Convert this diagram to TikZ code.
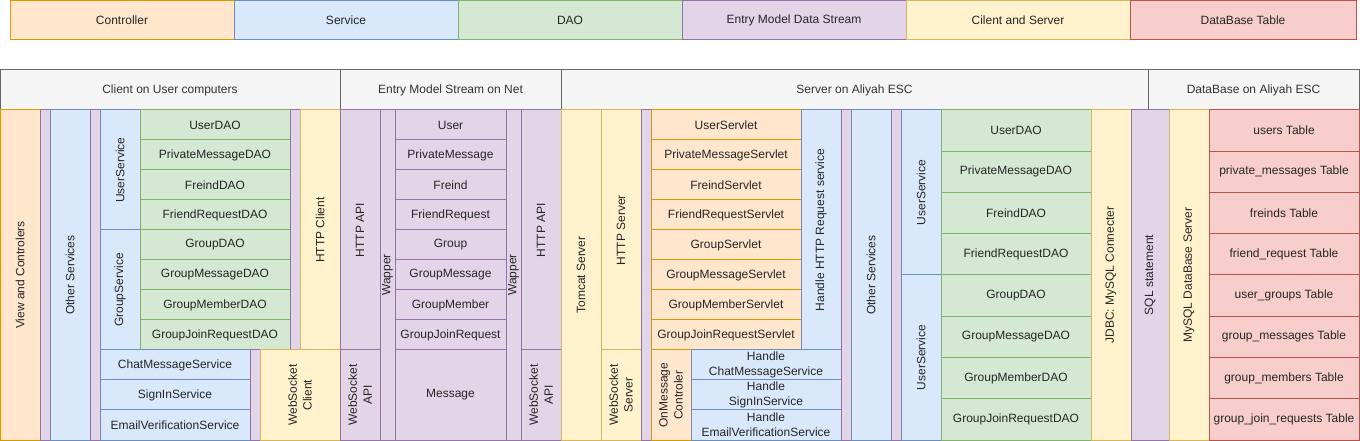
\documentclass[tikz,border=0pt]{standalone}
\usepackage{fontspec}
\setmainfont{Liberation Sans}
\definecolor{orF}{HTML}{FFE6CC}\definecolor{orD}{HTML}{D79B00}
\definecolor{blF}{HTML}{DAE8FC}\definecolor{blD}{HTML}{6C8EBF}
\definecolor{grF}{HTML}{D5E8D4}\definecolor{grD}{HTML}{82B366}
\definecolor{puF}{HTML}{E1D5E7}\definecolor{puD}{HTML}{9673A6}
\definecolor{yeF}{HTML}{FFF2CC}\definecolor{yeD}{HTML}{D6B656}
\definecolor{reF}{HTML}{F8CECC}\definecolor{reD}{HTML}{B85450}
\definecolor{gyF}{HTML}{F5F5F5}\definecolor{gyD}{HTML}{666666}
\definecolor{gyT}{HTML}{333333}
\tikzset{
  orng/.style={fill=orF,draw=orD,line width=0.75pt},
  blu/.style={fill=blF,draw=blD,line width=0.75pt},
  grn/.style={fill=grF,draw=grD,line width=0.75pt},
  purp/.style={fill=puF,draw=puD,line width=0.75pt},
  yell/.style={fill=yeF,draw=yeD,line width=0.75pt},
  redb/.style={fill=reF,draw=reD,line width=0.75pt},
  gray/.style={fill=gyF,draw=gyD,line width=0.75pt},
  lbl/.style={font=\fontsize{9}{11.1}\selectfont,align=center,inner sep=0pt,text=black!85},
  hlbl/.style={lbl,text=gyT}
}
\newcommand\mycellh[7]{\draw[#2] (#3,#4) rectangle (#5,#6); \node[lbl] (#1) at ({(#3+#5)/2},{(#4+#6)/2}) {#7};}
\newcommand\mycellv[7]{\draw[#2] (#3,#4) rectangle (#5,#6); \node[lbl,rotate=90] (#1) at ({(#3+#5)/2},{(#4+#6)/2}) {#7};}
\newcommand\myhead[6]{\draw[gray] (#2,#3) rectangle (#4,#5); \node[hlbl] (#1) at ({(#2+#4)/2},{(#3+#5)/2}) {#6};}
\begin{document}
\begin{tikzpicture}[x=0.75pt,y=-0.75pt]
\useasboundingbox (0,0) rectangle (1360,441);
% legend
\mycellh{leg1}{orng}{10}{1}{234}{40}{Controller}
\mycellh{leg2}{blu}{234}{1}{458}{40}{Service}
\mycellh{leg3}{grn}{458}{1}{682}{40}{DAO}
\mycellh{leg4}{purp}{682}{1}{906}{40}{Entry Model Data Stream}
\mycellh{leg5}{yell}{906}{1}{1130}{40}{Cilent and Server}
\mycellh{leg6}{redb}{1130}{1}{1356}{40}{DataBase Table}
% headers
\myhead{h1}{0}{70}{340}{110}{Client on User computers}
\myhead{h2}{340}{70}{561}{110}{Entry Model Stream on Net}
\myhead{h3}{561}{70}{1148}{110}{Server on Aliyah ESC}
\myhead{h4}{1148}{70}{1359}{110}{DataBase on Aliyah ESC}
% client
\mycellv{cview}{orng}{0}{110}{40}{440}{View and Controlers}
\mycellv{cp1}{purp}{40}{110}{50}{440}{}
\mycellv{cother}{blu}{50}{110}{90}{440}{Other Services}
\mycellv{cp2}{purp}{90}{110}{100}{440}{}
\mycellv{cus}{blu}{100}{110}{140}{230}{UserService}
\mycellv{cgs}{blu}{100}{230}{140}{350}{GroupService}
\foreach \t [count=\i] in {UserDAO,PrivateMessageDAO,FreindDAO,FriendRequestDAO,GroupDAO,GroupMessageDAO,GroupMemberDAO,GroupJoinRequestDAO}{
  \pgfmathsetmacro\ya{110+(\i-1)*30}\pgfmathsetmacro\yb{\ya+30}
  \mycellh{cdao\i}{grn}{140}{\ya}{290}{\yb}{\t}
}
\mycellv{cp3}{purp}{290}{110}{300}{350}{}
\mycellv{chttp}{yell}{300}{110}{340}{350}{HTTP Client}
\mycellh{cchat}{blu}{100}{350}{250}{380}{ChatMessageService}
\mycellh{csign}{blu}{100}{380}{250}{410}{SignInService}
\mycellh{cemail}{blu}{100}{410}{250}{440}{EmailVerificationService}
\mycellv{cp4}{purp}{250}{350}{260}{440}{}
\mycellv{cws}{yell}{260}{350}{340}{440}{WebSocket\\Client}
% entry model stream
\mycellv{ehttp1}{purp}{340}{110}{380}{350}{HTTP API}
\mycellv{ews1}{purp}{340}{350}{380}{440}{WebSocket\\API}
\mycellv{ew1}{purp}{380}{110}{395}{440}{Wapper}
\foreach \t [count=\i] in {User,PrivateMessage,Freind,FriendRequest,Group,GroupMessage,GroupMember,GroupJoinRequest}{
  \pgfmathsetmacro\ya{110+(\i-1)*30}\pgfmathsetmacro\yb{\ya+30}
  \mycellh{ent\i}{purp}{395}{\ya}{506}{\yb}{\t}
}
\mycellh{emsg}{purp}{395}{350}{506}{440}{Message}
\mycellv{ew2}{purp}{506}{110}{521}{440}{Wapper}
\mycellv{ehttp2}{purp}{521}{110}{561}{350}{HTTP API}
\mycellv{ews2}{purp}{521}{350}{561}{440}{WebSocket\\API}
% server
\mycellv{stomcat}{yell}{561}{110}{601}{440}{Tomcat Server}
\mycellv{shttp}{yell}{601}{110}{641}{350}{HTTP Server}
\mycellv{sws}{yell}{601}{350}{641}{440}{WebSocket\\Server}
\mycellv{sp1}{purp}{641}{110}{651}{440}{}
\foreach \t [count=\i] in {UserServlet,PrivateMessageServlet,FreindServlet,FriendRequestServlet,GroupServlet,GroupMessageServlet,GroupMemberServlet,GroupJoinRequestServlet}{
  \pgfmathsetmacro\ya{110+(\i-1)*30}\pgfmathsetmacro\yb{\ya+30}
  \mycellh{svl\i}{orng}{651}{\ya}{801}{\yb}{\t}
}
\mycellv{shandle}{blu}{801}{110}{841}{350}{Handle HTTP Request service}
\mycellv{sonmsg}{orng}{651}{350}{691}{440}{OnMessage\\Controler}
\mycellh{shchat}{blu}{691}{350}{841}{380}{Handle\\ChatMessageService}
\mycellh{shsign}{blu}{691}{380}{841}{410}{Handle\\SignInService}
\mycellh{shemail}{blu}{691}{410}{841}{440}{Handle\\EmailVerificationService}
\mycellv{sp2}{purp}{841}{110}{851}{440}{}
\mycellv{sother}{blu}{851}{110}{891}{440}{Other Services}
\mycellv{sp3}{purp}{891}{110}{901}{440}{}
\mycellv{sus1}{blu}{901}{110}{941}{275}{UserService}
\mycellv{sus2}{blu}{901}{275}{941}{440}{UserService}
\foreach \t [count=\i] in {UserDAO,PrivateMessageDAO,FreindDAO,FriendRequestDAO,GroupDAO,GroupMessageDAO,GroupMemberDAO,GroupJoinRequestDAO}{
  \pgfmathsetmacro\ya{110+(\i-1)*41.25}\pgfmathsetmacro\yb{\ya+41.25}
  \mycellh{sdao\i}{grn}{941}{\ya}{1091}{\yb}{\t}
}
\mycellv{sjdbc}{yell}{1091}{110}{1131}{440}{JDBC: MySQL Connecter}
% database
\mycellv{dsql}{purp}{1131}{110}{1169}{440}{SQL statement}
\mycellv{dmysql}{yell}{1169}{110}{1209}{440}{MySQL DataBase Server}
\foreach \t [count=\i] in {users Table,private\_messages Table,freinds Table,friend\_request Table,user\_groups Table,group\_messages Table,group\_members Table,group\_join\_requests Table}{
  \pgfmathsetmacro\ya{110+(\i-1)*41.25}\pgfmathsetmacro\yb{\ya+41.25}
  \mycellh{dtab\i}{redb}{1209}{\ya}{1359}{\yb}{\t}
}
\end{tikzpicture}
\end{document}
